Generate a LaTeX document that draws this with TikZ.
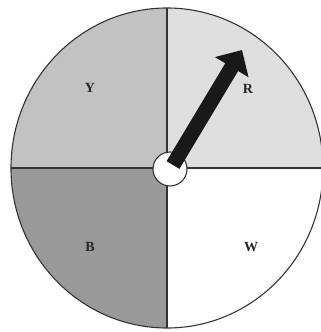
\documentclass[tikz,border=0pt]{standalone}
\usepackage{fontspec}
\setmainfont{Liberation Serif}
\usetikzlibrary{arrows.meta}
\definecolor{ygray}{gray}{0.76}
\definecolor{rgray}{gray}{0.87}
\definecolor{bgray}{gray}{0.60}
\definecolor{edge}{gray}{0.2}
\tikzset{
  letter/.style={font=\fontsize{14}{16}\selectfont\bfseries, text=black!85},
  divider/.style={edge, line width=1.3pt},
  rim/.style={x radius=156, y radius=160}
}
\begin{document}
\begin{tikzpicture}[x=1pt, y=-1pt]
  \useasboundingbox (0,0) rectangle (321,332);
  \coordinate (c) at (167,168);

  % quadrants (y axis points down, so angles run clockwise)
  \fill[ygray] (c) -- (11,168) arc[start angle=180, end angle=270, rim] -- cycle;
  \fill[rgray] (c) -- (167,8) arc[start angle=270, end angle=360, rim] -- cycle;
  \fill[bgray] (c) -- (167,328) arc[start angle=90, end angle=180, rim] -- cycle;

  % dividers and rim
  \draw[divider] (11,168) -- (323,168);
  \draw[divider] (167,8) -- (167,328);
  \draw[edge, line width=1.1pt] (c) ellipse[rim];

  % letters
  \node[letter] (y) at (90,88) {Y};
  \node[letter] (r) at (248,89) {R};
  \node[letter] (b) at (90,247) {B};
  \node[letter] (w) at (251,247) {W};

  % hub and pointer
  \node[circle, draw=edge, fill=white, line width=1.1pt, minimum size=34pt, inner sep=0pt] (hub) at (170,169) {};
  \coordinate (tail) at (173,165);
  \coordinate (tip) at (242,50);
  \draw[black!90, line width=15pt, -{Triangle[length=20pt, width=38pt]}] (tail) -- (tip);
\end{tikzpicture}
\end{document}
